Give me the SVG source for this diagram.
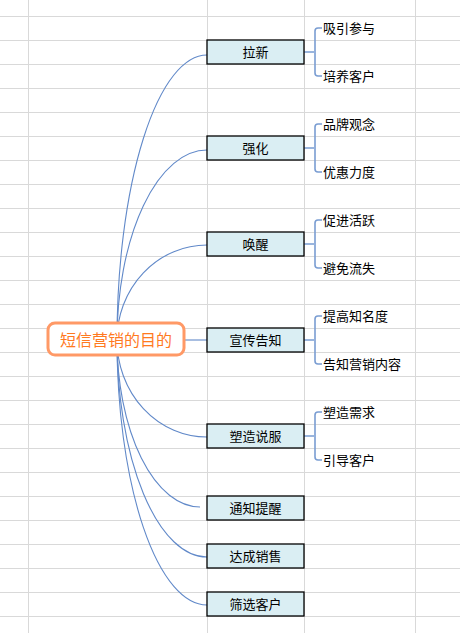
<svg xmlns="http://www.w3.org/2000/svg" width="460" height="633" viewBox="0 0 460 633">
<style>
.grid line{stroke:#D9D9D9;stroke-width:1}
.conn path{fill:none;stroke:#6189C9;stroke-width:1.1}
.conn .br{stroke:#7A9DD2;stroke-width:1.6}
.box{fill:#DAEEF3;stroke:#000;stroke-width:1.3}
.bt{font-family:"Noto Sans CJK SC","Liberation Sans",sans-serif;font-size:13px;fill:#000;text-anchor:middle}
.ct{font-family:"Noto Sans CJK SC","Liberation Sans",sans-serif;font-size:13px;fill:#000}
</style>
<rect width="460" height="633" fill="#fff"/>
<g class="grid">
<line x1="28.5" y1="0" x2="28.5" y2="633"/>
<line x1="207.5" y1="0" x2="207.5" y2="633"/>
<line x1="304.5" y1="0" x2="304.5" y2="633"/>
<line x1="415.5" y1="0" x2="415.5" y2="633"/>
<line x1="0" y1="16.5" x2="460" y2="16.5"/>
<line x1="0" y1="40.5" x2="460" y2="40.5"/>
<line x1="0" y1="64.5" x2="460" y2="64.5"/>
<line x1="0" y1="88.5" x2="460" y2="88.5"/>
<line x1="0" y1="112.5" x2="460" y2="112.5"/>
<line x1="0" y1="136.5" x2="460" y2="136.5"/>
<line x1="0" y1="160.5" x2="460" y2="160.5"/>
<line x1="0" y1="184.5" x2="460" y2="184.5"/>
<line x1="0" y1="208.5" x2="460" y2="208.5"/>
<line x1="0" y1="232.5" x2="460" y2="232.5"/>
<line x1="0" y1="256.5" x2="460" y2="256.5"/>
<line x1="0" y1="280.5" x2="460" y2="280.5"/>
<line x1="0" y1="304.5" x2="460" y2="304.5"/>
<line x1="0" y1="328.5" x2="460" y2="328.5"/>
<line x1="0" y1="352.5" x2="460" y2="352.5"/>
<line x1="0" y1="376.5" x2="460" y2="376.5"/>
<line x1="0" y1="400.5" x2="460" y2="400.5"/>
<line x1="0" y1="424.5" x2="460" y2="424.5"/>
<line x1="0" y1="448.5" x2="460" y2="448.5"/>
<line x1="0" y1="472.5" x2="460" y2="472.5"/>
<line x1="0" y1="496.5" x2="460" y2="496.5"/>
<line x1="0" y1="520.5" x2="460" y2="520.5"/>
<line x1="0" y1="544.5" x2="460" y2="544.5"/>
<line x1="0" y1="568.5" x2="460" y2="568.5"/>
<line x1="0" y1="592.5" x2="460" y2="592.5"/>
<line x1="0" y1="616.5" x2="460" y2="616.5"/>
</g>
<g class="conn" id="connectors">
<path d="M117,340 A90,285 0 0 1 207,55"/>
<path d="M117,340 A90,190 0 0 1 207,150"/>
<path d="M117,340 A90,95 0 0 1 207,245"/>
<path d="M185,340 L207,340"/>
<path d="M117,340 A90,97 0 0 0 207,437"/>
<path d="M117,340 A83,167 0 0 0 200,507"/>
<path d="M117,340 A90,217 0 0 0 207,557"/>
<path d="M117,340 A90,265 0 0 0 207,605"/>
<path class="br" d="M304,52 H314 M322,28 H318 Q315,28 315,31 V73 Q315,76 318,76 H322"/>
<path class="br" d="M304,148 H314 M322,124 H318 Q315,124 315,127 V169 Q315,172 318,172 H322"/>
<path class="br" d="M304,244 H314 M322,220 H318 Q315,220 315,223 V265 Q315,268 318,268 H322"/>
<path class="br" d="M304,340 H314 M322,316 H318 Q315,316 315,319 V361 Q315,364 318,364 H322"/>
<path class="br" d="M304,436 H314 M322,412 H318 Q315,412 315,415 V457 Q315,460 318,460 H322"/>
</g>
<g id="root">
<rect x="48" y="323" width="136" height="32" rx="7" fill="#fff" stroke="#FF9966" stroke-width="3"/>
<text x="116" y="345.5" font-family="'Noto Sans CJK SC','Liberation Sans',sans-serif" font-size="16" fill="#FF7A1F" text-anchor="middle">短信营销的目的</text>
</g>
<g id="n1"><rect class="box" x="207" y="40" width="97" height="24"/><text class="bt" x="255.5" y="57">拉新</text></g>
<g id="n2"><rect class="box" x="207" y="136" width="97" height="24"/><text class="bt" x="255.5" y="153">强化</text></g>
<g id="n3"><rect class="box" x="207" y="232" width="97" height="24"/><text class="bt" x="255.5" y="249">唤醒</text></g>
<g id="n4"><rect class="box" x="207" y="328" width="97" height="24"/><text class="bt" x="255.5" y="345">宣传告知</text></g>
<g id="n5"><rect class="box" x="207" y="424" width="97" height="24"/><text class="bt" x="255.5" y="441">塑造说服</text></g>
<g id="n6"><rect class="box" x="207" y="496" width="97" height="24"/><text class="bt" x="255.5" y="513">通知提醒</text></g>
<g id="n7"><rect class="box" x="207" y="544" width="97" height="24"/><text class="bt" x="255.5" y="561">达成销售</text></g>
<g id="n8"><rect class="box" x="207" y="592" width="97" height="24"/><text class="bt" x="255.5" y="609">筛选客户</text></g>
<g id="c1a"><text class="ct" x="323" y="33">吸引参与</text></g>
<g id="c1b"><text class="ct" x="323" y="81">培养客户</text></g>
<g id="c2a"><text class="ct" x="323" y="129">品牌观念</text></g>
<g id="c2b"><text class="ct" x="323" y="177">优惠力度</text></g>
<g id="c3a"><text class="ct" x="323" y="225">促进活跃</text></g>
<g id="c3b"><text class="ct" x="323" y="273">避免流失</text></g>
<g id="c4a"><text class="ct" x="323" y="321">提高知名度</text></g>
<g id="c4b"><text class="ct" x="323" y="369">告知营销内容</text></g>
<g id="c5a"><text class="ct" x="323" y="417">塑造需求</text></g>
<g id="c5b"><text class="ct" x="323" y="465">引导客户</text></g>
</svg>
